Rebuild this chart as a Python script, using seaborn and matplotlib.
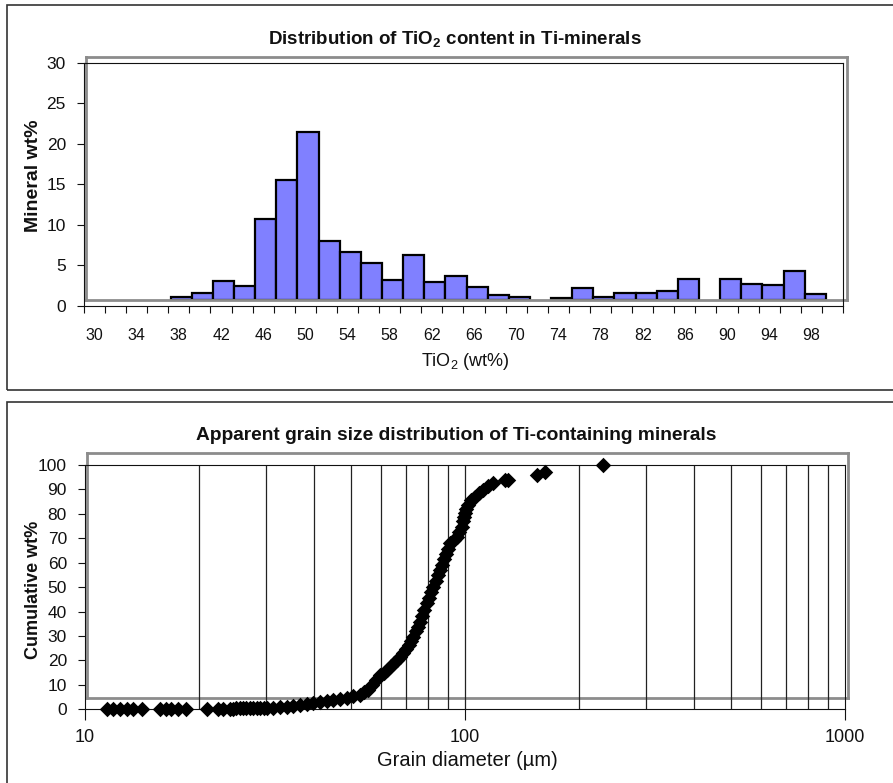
import numpy as np
import pandas as pd
import matplotlib
matplotlib.use("Agg")
import matplotlib.pyplot as plt
import seaborn as sns
from matplotlib.patches import Rectangle
from matplotlib.ticker import FixedLocator, FixedFormatter, NullLocator

# ---------------------------------------------------------------- data
tio2_bins = list(range(30, 101, 2))
mineral_wt = [0, 0, 0, 0, 0.27, 0.77, 2.29, 1.67, 9.95, 14.73, 20.74, 7.27,
              5.83, 4.55, 2.41, 5.5, 2.2, 2.9, 1.51, 0.56, 0.35, 0, 0.15, 1.39,
              0.27, 0.84, 0.84, 1.09, 2.53, 0, 2.53, 1.88, 1.75, 3.52, 0.68, 0]
tio2_tick_labels = [str(b) for b in tio2_bins[::2]]

grain_diameter = [
    11.4, 11.87, 12.36, 12.87, 13.4, 14.1, 15.76, 16.3, 16.8, 17.6, 18.4,
    20.9, 22.4, 23.1, 24.1, 24.5, 25.0, 25.6, 26.05, 26.6, 27.2, 27.7, 28.3,
    28.9, 29.5, 30.1, 31.2, 32.6, 34.0, 35.3, 36.8, 38.4, 39.8, 41.5, 43.3,
    44.9, 46.9, 48.9, 50.8, 52.93, 54.23, 55.56, 56.93, 58.33, 59.76, 61.04,
    62.35, 63.68, 65.05, 66.24, 67.46, 68.70, 69.96, 71.03, 72.12, 73.13,
    74.10, 74.99, 76.14, 77.06, 78.14, 79.29, 80.40, 81.38, 82.54, 83.64,
    84.77, 85.96, 87.01, 88.07, 89.13, 90.22, 91.32, 93.28, 95.11, 96.43,
    98.02, 98.80, 99.40, 100.0, 100.9, 102.0, 104.0, 106.2, 108.8, 111.7,
    115.0, 118.7, 127.5, 129.8, 154.4, 162.4, 231.1]
cumulative_wt = [
    0.02, 0.04, 0.06, 0.08, 0.10, 0.12, 0.14, 0.16, 0.18, 0.20, 0.22,
    0.24, 0.26, 0.28, 0.30, 0.32, 0.34, 0.36, 0.38, 0.40, 0.42, 0.44, 0.46,
    0.48, 0.50, 0.55, 0.61, 0.86, 1.10, 1.35, 1.64, 2.05, 2.46, 2.87, 3.32,
    3.81, 4.34, 4.70, 5.30, 5.85, 6.88, 8.10, 9.95, 12.0, 14.04, 15.06,
    16.29, 17.52, 18.95, 20.18, 21.53, 23.05, 24.48, 26.12, 27.96, 29.72,
    31.85, 33.89, 35.86, 38.19, 40.65, 43.39, 45.76, 48.01, 50.18, 52.52,
    54.77, 57.02, 59.27, 61.52, 63.77, 65.82, 67.95, 69.30, 70.65, 72.58,
    74.74, 77.08, 78.71, 80.23, 81.99, 83.63, 85.47, 87.02, 88.42, 89.77,
    91.40, 92.75, 93.66, 94.06, 95.91, 97.26, 100.0]
grain_ticks = [10, 100, 1000]
grain_grid = [20, 30, 40, 50, 60, 70, 80, 90, 100,
              200, 300, 400, 500, 600, 700, 800, 900]

# ---------------------------------------------------------------- style
sns.set_theme(style="white")
plt.rcParams["font.family"] = ["Liberation Sans", "DejaVu Sans"]
plt.rcParams["mathtext.fontset"] = "custom"
plt.rcParams["mathtext.rm"] = "Liberation Sans"
plt.rcParams["mathtext.bf"] = "Liberation Sans:bold"

BAR_BLUE = "#8080FF"
FRAME_GREY = "#8C8C8C"
INK = "#111111"

W, H = 893, 783
fig = plt.figure(figsize=(W / 100, H / 100), dpi=100)
fig.patch.set_facecolor("white")


def px_box(x0, y0, x1, y1):
    """Axes rectangle given in pixel corners (origin top-left)."""
    return [x0 / W, 1 - y1 / H, (x1 - x0) / W, (y1 - y0) / H]


def fig_xy(x, y):
    return x / W, 1 - y / H


# panel borders
for (x0, y0, x1, y1) in [(7, 5, 905, 390), (7, 402, 905, 795)]:
    fig.add_artist(Rectangle(fig_xy(x0, y1), (x1 - x0) / W, (y1 - y0) / H,
                             transform=fig.transFigure, fill=False,
                             ec="#333333", lw=1.2))

# ---------------------------------------------------------------- histogram
ax_bars = fig.add_axes(px_box(86, 57, 847, 299.5))
hist_df = pd.DataFrame({"bin": [str(b) for b in tio2_bins], "wt": mineral_wt})
hist_df = hist_df[hist_df["wt"] > 0]
sns.barplot(data=hist_df, x="bin", y="wt", order=[str(b) for b in tio2_bins],
            color=BAR_BLUE, saturation=1, edgecolor="black", linewidth=1.6,
            width=1.0, ax=ax_bars)
ax_bars.set_xlim(-0.5, len(tio2_bins) - 0.5)
ax_bars.set_ylim(0, 30)
ax_bars.set_xticks([])
ax_bars.set_yticks([])
ax_bars.set_xlabel("")
ax_bars.set_ylabel("")
for sp in ax_bars.spines.values():
    sp.set_color(FRAME_GREY)
    sp.set_linewidth(2.0)

ax_hist = fig.add_axes(px_box(84, 62.7, 843, 305.7))
ax_hist.patch.set_alpha(0)
ax_hist.set_xlim(-0.5, len(tio2_bins) - 0.5)
ax_hist.set_ylim(0, 30)
ax_hist.set_yticks(range(0, 31, 5))
ax_hist.set_xticks(range(0, len(tio2_bins), 2))
ax_hist.set_xticklabels(tio2_tick_labels, fontsize=11.5)
ax_hist.xaxis.set_minor_locator(FixedLocator(np.arange(-0.5, len(tio2_bins), 1)))
ax_hist.tick_params(axis="x", which="major", length=0, pad=16, colors=INK)
ax_hist.tick_params(axis="x", which="minor", length=5, width=0.8,
                    direction="out", color=INK)
ax_hist.tick_params(axis="y", which="major", length=5, width=0.8,
                    direction="out", color=INK, labelsize=12.5, pad=8,
                    labelcolor=INK)
ax_hist.tick_params(bottom=True, left=True, which="both")
for sp in ax_hist.spines.values():
    sp.set_color(INK)
    sp.set_linewidth(0.8)

fig.text(*fig_xy(455, 40), r"Distribution of TiO$_\mathbf{2}$ content in Ti-minerals",
         ha="center", va="center", fontsize=13.5, fontweight="bold", color=INK)
fig.text(*fig_xy(33, 176), "Mineral wt%", rotation=90, ha="center",
         va="center", fontsize=14, fontweight="bold", color=INK)
fig.text(*fig_xy(465, 362), r"TiO$_2$ (wt%)", ha="center", va="center",
         fontsize=13, color=INK)

# ---------------------------------------------------------------- grain size
ax_frame = fig.add_axes(px_box(87, 453, 848, 698))
ax_frame.set_xticks([])
ax_frame.set_yticks([])
for sp in ax_frame.spines.values():
    sp.set_color(FRAME_GREY)
    sp.set_linewidth(2.0)

ax_gs = fig.add_axes(px_box(85, 465, 845, 709.3))
ax_gs.patch.set_alpha(0)
gs_df = pd.DataFrame({"diameter": grain_diameter, "cumulative": cumulative_wt})
sns.scatterplot(data=gs_df, x="diameter", y="cumulative", marker="D", s=62,
                color="black", edgecolor="black", linewidth=0, ax=ax_gs,
                zorder=3, clip_on=False)
ax_gs.set_xscale("log")
ax_gs.set_xlim(10, 1000)
ax_gs.set_ylim(0, 100)
ax_gs.set_xlabel("")
ax_gs.set_ylabel("")
for gx in grain_grid:
    ax_gs.axvline(gx, color="#222222", lw=0.9, zorder=1)
ax_gs.xaxis.set_major_locator(FixedLocator(grain_ticks))
ax_gs.xaxis.set_major_formatter(FixedFormatter([str(t) for t in grain_ticks]))
ax_gs.xaxis.set_minor_locator(NullLocator())
ax_gs.set_yticks(range(0, 101, 10))
ax_gs.tick_params(axis="x", which="major", length=8, width=0.8, direction="out",
                  color=INK, labelsize=13, pad=6, labelcolor=INK)
ax_gs.tick_params(axis="y", which="major", length=5, width=0.8, direction="out",
                  color=INK, labelsize=12.5, pad=8, labelcolor=INK)
ax_gs.tick_params(bottom=True, left=True)
for sp in ax_gs.spines.values():
    sp.set_color(INK)
    sp.set_linewidth(0.8)

fig.text(*fig_xy(456, 436), "Apparent grain size distribution of Ti-containing minerals",
         ha="center", va="center", fontsize=13.8, fontweight="bold", color=INK)
fig.text(*fig_xy(33, 590), "Cumulative wt%", rotation=90, ha="center",
         va="center", fontsize=13, fontweight="bold", color=INK)
fig.text(*fig_xy(467, 761), "Grain diameter (\u00b5m)", ha="center",
         va="center", fontsize=14.5, color=INK)

fig.savefig("out.png", dpi=100, facecolor="white")
